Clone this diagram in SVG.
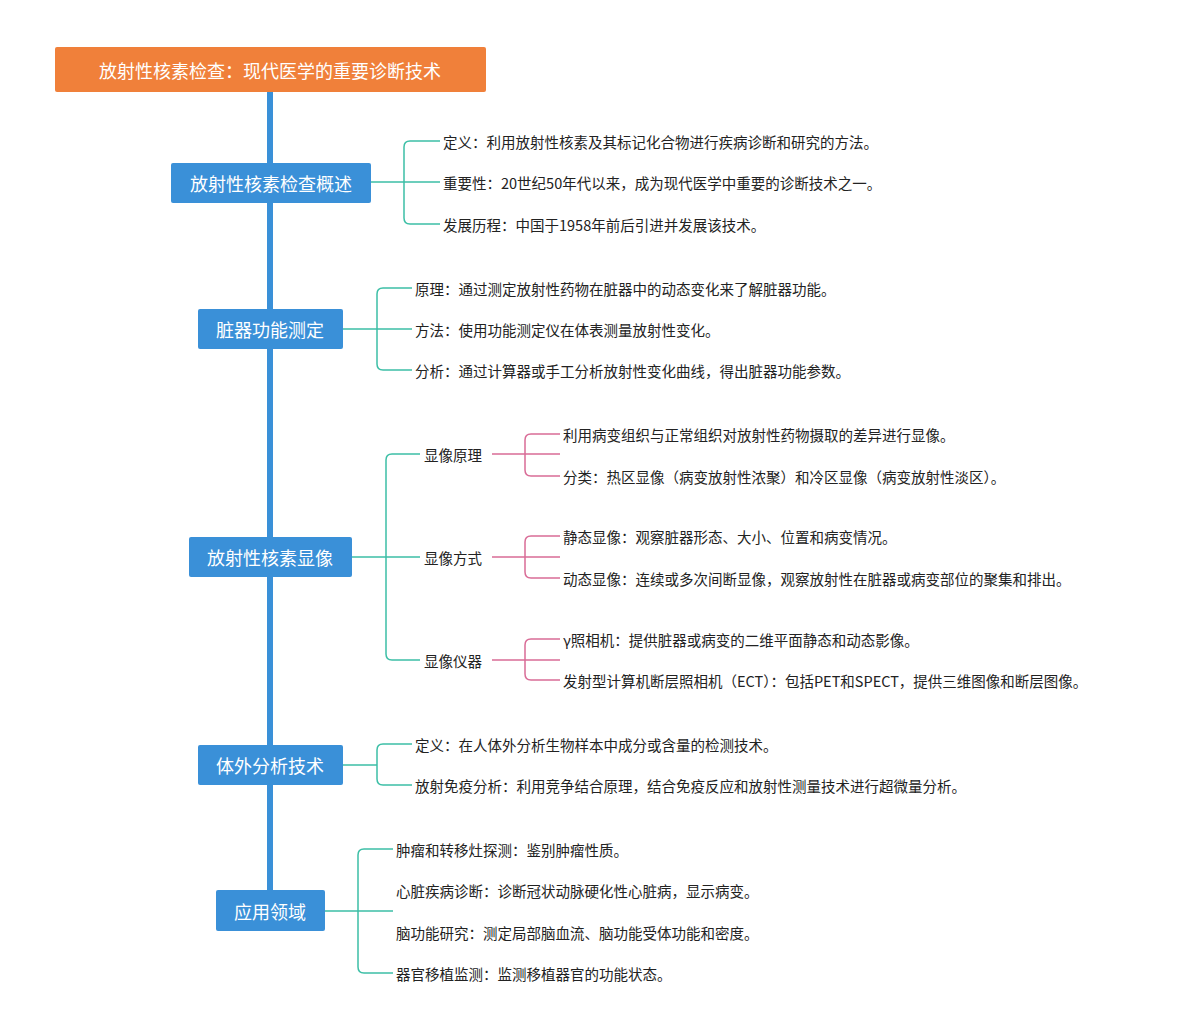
<svg xmlns="http://www.w3.org/2000/svg" width="1200" height="1035" viewBox="0 0 1200 1035">
<style>
.box{fill:#3a90d8}
.bt{fill:#fff;font-family:"Noto Sans CJK SC",sans-serif;font-size:18px;text-anchor:middle;dominant-baseline:central}
.t{fill:#222;font-family:"Noto Sans CJK SC",sans-serif;font-size:14.5px;dominant-baseline:central}
.g{fill:none;stroke:#3cbfa6;stroke-width:1.5}
.p{fill:none;stroke:#d96c97;stroke-width:1.5}
</style>
<rect width="1200" height="1035" fill="#fff"/>
<g id="connectors">
<line x1="270" y1="92" x2="270" y2="890" stroke="#3a90d8" stroke-width="6"/>
<path class="g" d="M371 182H440M440 141H410Q404 141 404 147V218Q404 224 410 224H440"/>
<path class="g" d="M343 329H412M412 288H383Q377 288 377 294V364Q377 370 383 370H412"/>
<path class="g" d="M352 557H420M420 454H392Q386 454 386 460V654Q386 660 392 660H420"/>
<path class="p" d="M492 454H560M560 434H531Q525 434 525 440V470Q525 476 531 476H560"/>
<path class="p" d="M492 557H560M560 536H531Q525 536 525 542V572Q525 578 531 578H560"/>
<path class="p" d="M492 660H560M560 639H531Q525 639 525 645V674Q525 680 531 680H560"/>
<path class="g" d="M343 765H377M412 744H383Q377 744 377 750V779Q377 785 383 785H412"/>
<path class="g" d="M325 911H393M393 849H364Q358 849 358 855V967Q358 973 364 973H393"/>
</g>
<g id="title"><rect x="55" y="47" width="431" height="45" rx="2" fill="#f0803a"/><text class="bt" x="270" y="70" font-size="20">放射性核素检查：现代医学的重要诊断技术</text></g>
<g id="n1"><rect class="box" x="171" y="163" width="200" height="40" rx="2"/><text class="bt" x="271" y="183">放射性核素检查概述</text>
<text class="t" x="443" y="141">定义：利用放射性核素及其标记化合物进行疾病诊断和研究的方法。</text>
<text class="t" x="443" y="182">重要性：20世纪50年代以来，成为现代医学中重要的诊断技术之一。</text>
<text class="t" x="443" y="224">发展历程：中国于1958年前后引进并发展该技术。</text></g>
<g id="n2"><rect class="box" x="198" y="309" width="145" height="40" rx="2"/><text class="bt" x="270" y="329">脏器功能测定</text>
<text class="t" x="415" y="288">原理：通过测定放射性药物在脏器中的动态变化来了解脏器功能。</text>
<text class="t" x="415" y="329">方法：使用功能测定仪在体表测量放射性变化。</text>
<text class="t" x="415" y="370">分析：通过计算器或手工分析放射性变化曲线，得出脏器功能参数。</text></g>
<g id="n3"><rect class="box" x="189" y="537" width="163" height="40" rx="2"/><text class="bt" x="270" y="557">放射性核素显像</text>
<text class="t" x="424" y="454">显像原理</text><text class="t" x="424" y="557">显像方式</text><text class="t" x="424" y="660">显像仪器</text>
<text class="t" x="563" y="434">利用病变组织与正常组织对放射性药物摄取的差异进行显像。</text>
<text class="t" x="563" y="476">分类：热区显像（病变放射性浓聚）和冷区显像（病变放射性淡区）。</text>
<text class="t" x="563" y="536">静态显像：观察脏器形态、大小、位置和病变情况。</text>
<text class="t" x="563" y="578">动态显像：连续或多次间断显像，观察放射性在脏器或病变部位的聚集和排出。</text>
<text class="t" x="563" y="639">γ照相机：提供脏器或病变的二维平面静态和动态影像。</text>
<text class="t" x="563" y="680">发射型计算机断层照相机（ECT）：包括PET和SPECT，提供三维图像和断层图像。</text></g>
<g id="n4"><rect class="box" x="198" y="745" width="145" height="40" rx="2"/><text class="bt" x="270" y="765">体外分析技术</text>
<text class="t" x="415" y="744">定义：在人体外分析生物样本中成分或含量的检测技术。</text>
<text class="t" x="415" y="785">放射免疫分析：利用竞争结合原理，结合免疫反应和放射性测量技术进行超微量分析。</text></g>
<g id="n5"><rect class="box" x="216" y="890" width="109" height="41" rx="2"/><text class="bt" x="270" y="911">应用领域</text>
<text class="t" x="396" y="849">肿瘤和转移灶探测：鉴别肿瘤性质。</text>
<text class="t" x="396" y="890">心脏疾病诊断：诊断冠状动脉硬化性心脏病，显示病变。</text>
<text class="t" x="396" y="932">脑功能研究：测定局部脑血流、脑功能受体功能和密度。</text>
<text class="t" x="396" y="973">器官移植监测：监测移植器官的功能状态。</text></g>
</svg>
